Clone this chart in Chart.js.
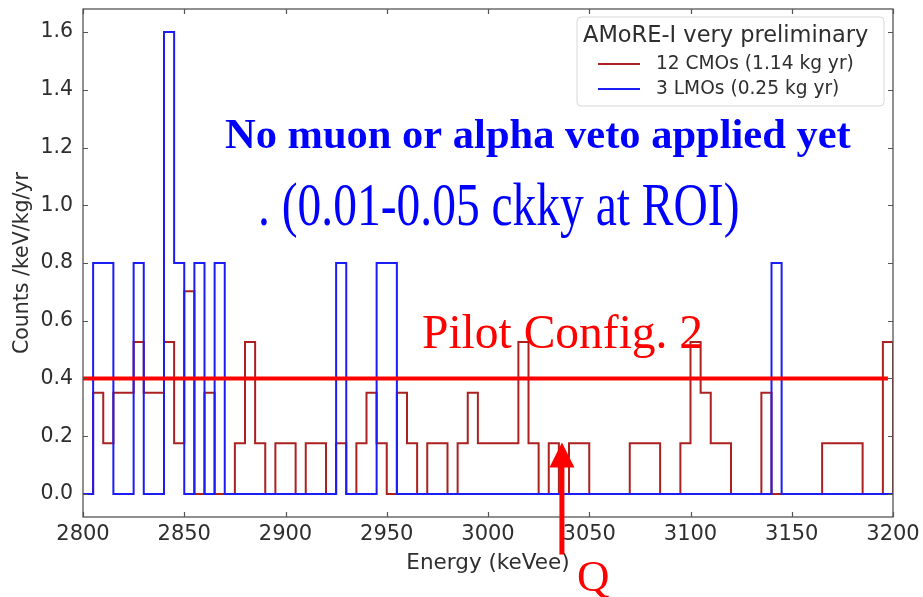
<!DOCTYPE html>
<html>
<head>
<meta charset="utf-8">
<script src="https://cdn.jsdelivr.net/npm/chart.js@4/dist/chart.umd.min.js"></script>
<style>
  html, body { margin: 0; padding: 0; background: #ffffff; }
  #wrap { width: 923px; height: 597px; }
</style>
</head>
<body>
<div id="wrap"><canvas id="spectrum" width="923" height="597"></canvas></div>
<script>
// Energy binning (keV) and exposures
const binLow = 2800;
const binWidth = 5;
const binHigh = 3200;
const cmoExposure = 1.14; // kg yr
const lmoExposure = 0.25; // kg yr

// Event counts per 5 keV bin, 2800 -> 3195 keV (lower edges)
const cmoCounts = [
  0, 2, 1, 2, 2, 3, 2, 2, 3, 1,   // 2800-2845
  4, 0, 2, 0, 0, 1, 3, 1, 0, 1,   // 2850-2895
  1, 0, 1, 1, 0, 1, 0, 1, 2, 1,   // 2900-2945
  0, 2, 1, 0, 1, 1, 0, 1, 2, 1,   // 2950-2995
  1, 1, 1, 3, 1, 0, 1, 0, 1, 1,   // 3000-3045
  0, 0, 0, 0, 1, 1, 1, 0, 0, 1,   // 3050-3095
  3, 2, 1, 1, 0, 0, 0, 2, 0, 0,   // 3100-3145
  0, 0, 0, 1, 1, 1, 1, 0, 0, 3    // 3150-3195
];
const lmoCounts = [
  0, 1, 1, 0, 0, 1, 0, 0, 2, 1,   // 2800-2845
  0, 1, 0, 1, 0, 0, 0, 0, 0, 0,   // 2850-2895
  0, 0, 0, 0, 0, 1, 0, 0, 0, 1,   // 2900-2945
  1, 0, 0, 0, 0, 0, 0, 0, 0, 0,   // 2950-2995
  0, 0, 0, 0, 0, 0, 0, 0, 0, 0,   // 3000-3045
  0, 0, 0, 0, 0, 0, 0, 0, 0, 0,   // 3050-3095
  0, 0, 0, 0, 0, 0, 0, 0, 1, 0,   // 3100-3145
  0, 0, 0, 0, 0, 0, 0, 0, 0, 0    // 3150-3195
];

const seriesLabels = ['12 CMOs (1.14 kg yr)', '3 LMOs (0.25 kg yr)'];
const legendTitle = 'AMoRE-I very preliminary';

const xTicks = [2800, 2850, 2900, 2950, 3000, 3050, 3100, 3150, 3200];
const yTicks = [0.0, 0.2, 0.4, 0.6, 0.8, 1.0, 1.2, 1.4, 1.6];
const yRange = [-0.08, 1.68];

// Pilot configuration 2 background level and Q-value marker
const pilotLevel = 0.4;
const pilotLineEnd = 3197.5;
const qValue = 3036.5;
const arrowTip = 0.178;
const arrowTail = -0.21;

const noteVeto = 'No muon or alpha veto applied yet';
const noteRate = '. (0.01-0.05 ckky at ROI)';
const notePilot = 'Pilot Config. 2';
const noteQ = 'Q';

const RED_HIST = 'rgb(172,32,32)';
const BLUE_HIST = 'rgb(28,28,245)';
const TEXT_GREY = '#2e2e2e';
const SPINE = '#555555';

// Counts -> counts/keV/kg/yr, as step points at the lower bin edges
function stepSeries(counts, exposure) {
  const pts = counts.map((n, i) => ({ x: binLow + i * binWidth, y: n / (binWidth * exposure) }));
  const last = pts[pts.length - 1].y;
  pts.push({ x: binHigh, y: last });
  pts.push({ x: binHigh, y: 0 });
  return pts;
}

const framePlugin = {
  id: 'frameAndNotes',
  afterDraw(chart) {
    const ctx = chart.ctx;
    const a = chart.chartArea;
    const xs = chart.scales.x, ys = chart.scales.y;
    ctx.save();

    // Inward ticks on all four sides
    ctx.strokeStyle = SPINE;
    ctx.lineWidth = 1.2;
    const tl = 5;
    ctx.beginPath();
    xTicks.forEach(v => {
      const px = Math.round(xs.getPixelForValue(v)) + 0.5;
      ctx.moveTo(px, a.bottom); ctx.lineTo(px, a.bottom - tl);
      ctx.moveTo(px, a.top); ctx.lineTo(px, a.top + tl);
    });
    yTicks.forEach(v => {
      const py = Math.round(ys.getPixelForValue(v)) + 0.5;
      ctx.moveTo(a.left, py); ctx.lineTo(a.left + tl, py);
      ctx.moveTo(a.right, py); ctx.lineTo(a.right - tl, py);
    });
    ctx.stroke();

    // Axes frame
    ctx.lineWidth = 1.3;
    ctx.strokeRect(a.left, a.top, a.right - a.left, a.bottom - a.top);

    // Legend box
    const lx = 577, ly = 17, lw = 307, lh = 89, r = 4;
    ctx.fillStyle = 'rgba(255,255,255,0.85)';
    ctx.strokeStyle = '#d6d6d6';
    ctx.lineWidth = 1;
    ctx.beginPath();
    ctx.moveTo(lx + r, ly);
    ctx.arcTo(lx + lw, ly, lx + lw, ly + lh, r);
    ctx.arcTo(lx + lw, ly + lh, lx, ly + lh, r);
    ctx.arcTo(lx, ly + lh, lx, ly, r);
    ctx.arcTo(lx, ly, lx + lw, ly, r);
    ctx.closePath();
    ctx.fill();
    ctx.stroke();

    ctx.fillStyle = TEXT_GREY;
    ctx.textBaseline = 'middle';
    ctx.textAlign = 'left';
    ctx.font = '22.5px "DejaVu Sans"';
    ctx.fillText(legendTitle, 583, 36);
    ctx.font = '18.6px "DejaVu Sans"';
    const entryColors = [RED_HIST, BLUE_HIST];
    [64, 89].forEach((yy, i) => {
      ctx.strokeStyle = entryColors[i];
      ctx.lineWidth = 2;
      ctx.beginPath();
      ctx.moveTo(598, yy); ctx.lineTo(640, yy);
      ctx.stroke();
      ctx.fillStyle = TEXT_GREY;
      ctx.fillText(chart.data.datasets[i].label, 656, yy);
    });

    // Notes
    ctx.textBaseline = 'alphabetic';
    ctx.fillStyle = '#0000ff';
    ctx.font = 'bold 42.5px "Liberation Serif"';
    ctx.fillText(noteVeto, 225, 148);
    ctx.save();
    ctx.translate(258, 225);
    ctx.scale(1, 1.28);
    ctx.font = '47.5px "Liberation Serif"';
    ctx.fillText(noteRate, 0, 0);
    ctx.restore();

    ctx.fillStyle = '#ff0000';
    ctx.font = '47.5px "Liberation Serif"';
    ctx.fillText(notePilot, 422, 348);

    // Q-value arrow
    const qx = xs.getPixelForValue(qValue);
    const tipY = ys.getPixelForValue(arrowTip);
    const tailY = ys.getPixelForValue(arrowTail);
    const headLen = 25, headHalf = 12.5;
    ctx.fillStyle = '#ff0000';
    ctx.fillRect(qx - 2.5, tipY + headLen - 1, 5, tailY - tipY - headLen + 1);
    ctx.beginPath();
    ctx.moveTo(qx, tipY);
    ctx.lineTo(qx + headHalf, tipY + headLen);
    ctx.lineTo(qx - headHalf, tipY + headLen);
    ctx.closePath();
    ctx.fill();
    ctx.font = '45px "Liberation Serif"';
    ctx.fillText(noteQ, qx + 15, 591);

    ctx.restore();
  }
};

new Chart(document.getElementById('spectrum'), {
  type: 'line',
  data: {
    datasets: [
      {
        label: seriesLabels[0],
        data: stepSeries(cmoCounts, cmoExposure),
        borderColor: RED_HIST,
        borderWidth: 2,
        stepped: true,
        pointRadius: 0,
        fill: false,
        order: 3
      },
      {
        label: seriesLabels[1],
        data: stepSeries(lmoCounts, lmoExposure),
        borderColor: BLUE_HIST,
        borderWidth: 2,
        stepped: true,
        pointRadius: 0,
        fill: false,
        order: 2
      },
      {
        label: notePilot,
        data: [{ x: binLow, y: pilotLevel }, { x: pilotLineEnd, y: pilotLevel }],
        borderColor: '#ff0000',
        borderWidth: 4,
        pointRadius: 0,
        fill: false,
        order: 1
      }
    ]
  },
  options: {
    responsive: false,
    animation: false,
    devicePixelRatio: 1,
    layout: { padding: { top: 9, right: 30, left: 0, bottom: 0 } },
    plugins: {
      legend: { display: false },
      tooltip: { enabled: false }
    },
    scales: {
      x: {
        type: 'linear',
        min: binLow,
        max: binHigh,
        grid: { display: false, drawTicks: false },
        border: { display: false },
        afterBuildTicks: s => { s.ticks = xTicks.map(v => ({ value: v })); },
        afterFit: s => { s.height = 80; s.paddingLeft = 0; s.paddingRight = 0; },
        ticks: {
          padding: 5,
          color: TEXT_GREY,
          font: { family: 'DejaVu Sans', size: 21 },
          maxRotation: 0,
          callback: v => String(v)
        },
        title: {
          display: true,
          text: 'Energy (keVee)',
          color: TEXT_GREY,
          font: { family: 'DejaVu Sans', size: 21.5 },
          padding: { top: 0, bottom: 21 }
        }
      },
      y: {
        type: 'linear',
        min: yRange[0],
        max: yRange[1],
        grid: { display: false, drawTicks: false },
        border: { display: false },
        afterBuildTicks: s => { s.ticks = yTicks.map(v => ({ value: v })); },
        afterFit: s => { s.width = 83; s.paddingTop = 0; s.paddingBottom = 0; },
        ticks: {
          padding: 10,
          color: TEXT_GREY,
          font: { family: 'DejaVu Sans', size: 20.5 },
          callback: v => Number(v).toFixed(1)
        },
        title: {
          display: true,
          text: 'Counts /keV/kg/yr',
          color: TEXT_GREY,
          font: { family: 'DejaVu Sans', size: 20.5 },
          padding: { top: 10, bottom: 0 }
        }
      }
    }
  },
  plugins: [framePlugin]
});
</script>
</body>
</html>
